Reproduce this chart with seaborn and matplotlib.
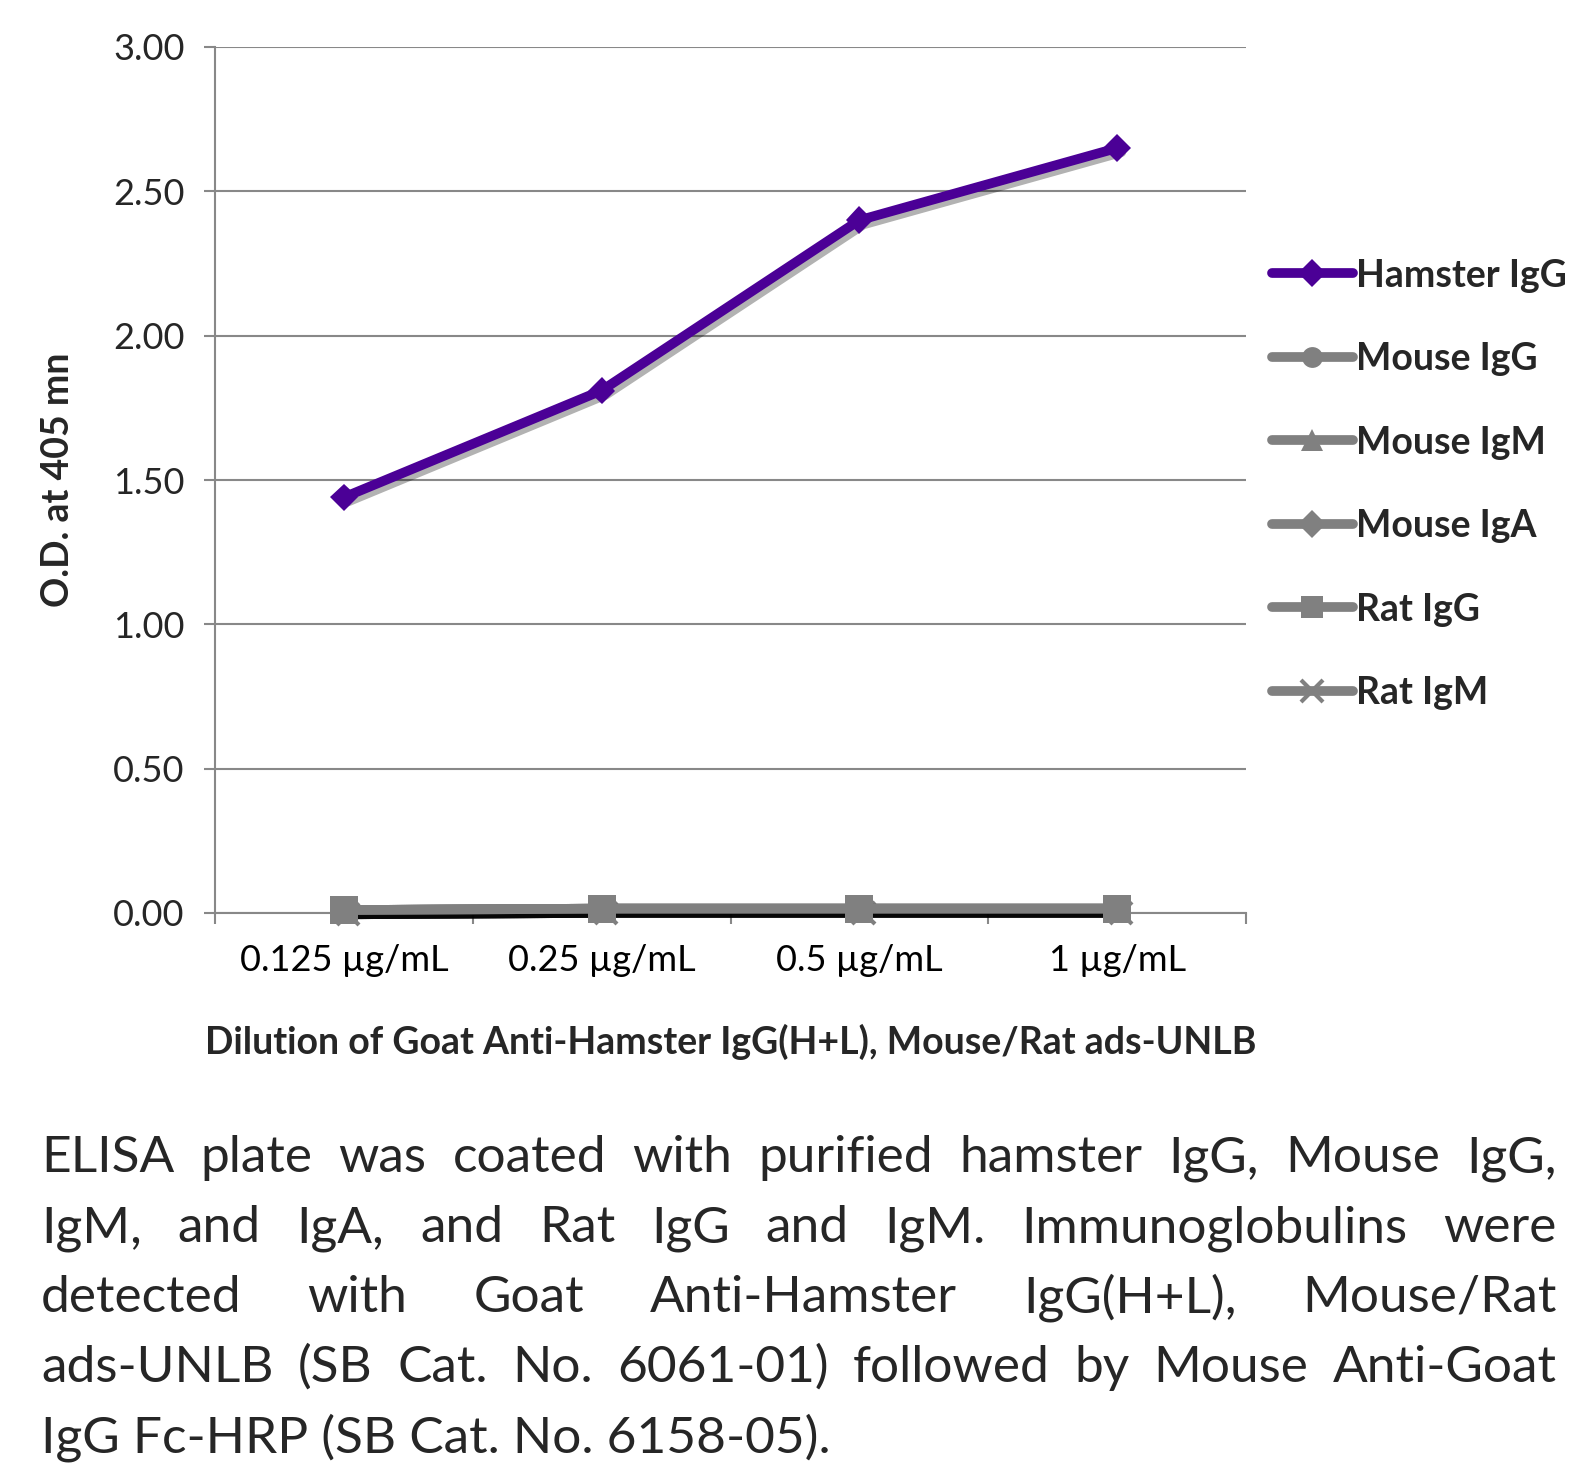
import matplotlib
matplotlib.use('Agg')
import matplotlib.pyplot as plt
import matplotlib.patheffects as pe
import seaborn as sns
import pandas as pd

dilutions = ['0.125 µg/mL', '0.25 µg/mL', '0.5 µg/mL', '1 µg/mL']
hamster_igg = [1.44, 1.81, 2.40, 2.65]
mouse_igg = [0.01, 0.015, 0.015, 0.015]
mouse_igm = [0.01, 0.015, 0.015, 0.015]
mouse_iga = [0.01, 0.015, 0.015, 0.015]
rat_igg = [0.01, 0.015, 0.015, 0.015]
rat_igm = [0.01, 0.015, 0.015, 0.015]

series_names = ['Hamster IgG', 'Mouse IgG', 'Mouse IgM', 'Mouse IgA', 'Rat IgG', 'Rat IgM']
series_values = [hamster_igg, mouse_igg, mouse_igm, mouse_iga, rat_igg, rat_igm]
y_ticks = [0.0, 0.5, 1.0, 1.5, 2.0, 2.5, 3.0]

caption_lines = [
    'ELISA plate was coated with purified hamster IgG, Mouse IgG,',
    'IgM, and IgA, and Rat IgG and IgM.  Immunoglobulins were',
    'detected with Goat Anti-Hamster IgG(H+L), Mouse/Rat',
    'ads-UNLB (SB Cat. No. 6061-01) followed by Mouse Anti-Goat',
    'IgG Fc-HRP (SB Cat. No. 6158-05).',
]

sns.set_theme(style='white')
plt.rcParams['font.family'] = ['Lato', 'DejaVu Sans']

purple = '#4B0096'
gray = '#808080'
colors = [purple] + [gray] * 5
markers = ['D', 'o', '^', 'D', 's', 'x']
msizes = [14, 15, 16, 14, 20, 16]
zorders = [6, 3, 3, 3, 5, 2]

fig = plt.figure(figsize=(15.9, 14.68), dpi=100)
W, H = 1590, 1468
ax = fig.add_axes([215 / W, 1 - 913 / H, 1031 / W, 866 / H])

for name, vals, c, m, ms, z in zip(series_names, series_values, colors, markers, msizes, zorders):
    d = pd.DataFrame({'pos': range(len(vals)), 'od': vals})
    sns.lineplot(data=d, x='pos', y='od', color=c, marker=m, linewidth=7,
                 markersize=ms, markeredgewidth=3 if m == 'x' else 0,
                 markeredgecolor=c, label=name, ax=ax, legend=False)
    ln = ax.get_lines()[-1]
    a = 0.3 if c == purple else 0.5
    ln.set_path_effects([pe.SimpleLineShadow(offset=(3, -3), shadow_color='black', alpha=a),
                         pe.Normal()])
    ln.set_solid_capstyle('round')
    ln.set_zorder(z)
    ln.set_clip_on(False)

ax.set_xlim(-0.5, 3.5)
ax.set_ylim(0, 3.0)
ax.set_yticks(y_ticks)
ax.set_yticklabels([f'{t:.2f}' for t in y_ticks], fontsize=26)
ax.set_xticks(range(len(dilutions)))
ax.set_xticklabels(dilutions, fontsize=26)
ax.set_xticks([-0.5, 0.5, 1.5, 2.5, 3.5], minor=True)
ax.tick_params(axis='x', which='major', length=0, pad=22, colors='black')
ax.tick_params(axis='x', which='minor', length=8, width=1.5, color='#888888', direction='out', bottom=True)
ax.tick_params(axis='y', length=8, width=1.5, color='#888888', pad=14, left=True, direction='out')
ax.yaxis.grid(True, color='#888888', linewidth=1.5)
ax.set_axisbelow(True)
for s in ['top', 'right']:
    ax.spines[s].set_visible(False)
for s in ['left', 'bottom']:
    ax.spines[s].set_color('#888888')
    ax.spines[s].set_linewidth(1.5)
    ax.spines[s].set_zorder(0.5)

ax.set_xlabel('Dilution of Goat Anti-Hamster IgG(H+L), Mouse/Rat ads-UNLB',
              fontsize=27, fontweight='bold', labelpad=34)
ax.set_ylabel('O.D. at 405 mn', fontsize=27, fontweight='bold')
ax.yaxis.set_label_coords(-0.136, 0.5)

handles = ax.get_lines()[:len(series_names)]
leg = ax.legend(handles, series_names, loc='center left', bbox_to_anchor=(0.996, 0.495),
                frameon=False, fontsize=27, labelspacing=1.32, handlelength=2.15,
                handletextpad=0.1, borderaxespad=0.4)
for t in leg.get_texts():
    t.set_fontweight('bold')
for h in leg.legend_handles:
    h.set_path_effects([])
    h.set_solid_capstyle('round')
    if h.get_marker() == 's':
        h.set_markersize(16)

# caption, justified like the original
renderer = fig.canvas.get_renderer()
x0, x1 = 41, 1557
fs = 37
baselines = [1172, 1242, 1312, 1382, 1452]
for k, (line, yb) in enumerate(zip(caption_lines, baselines)):
    words = line.split()
    if k == len(caption_lines) - 1:
        fig.text(x0 / W, 1 - yb / H, line, fontsize=fs, va='baseline', ha='left')
        continue
    objs = [fig.text(0, 1 - yb / H, w, fontsize=fs, va='baseline', ha='left') for w in words]
    widths = [o.get_window_extent(renderer).width for o in objs]
    gap = (x1 - x0 - sum(widths)) / (len(words) - 1)
    x = x0
    for o, wd in zip(objs, widths):
        o.set_x(x / W)
        x += wd + gap

fig.savefig('out.png', dpi=100)
